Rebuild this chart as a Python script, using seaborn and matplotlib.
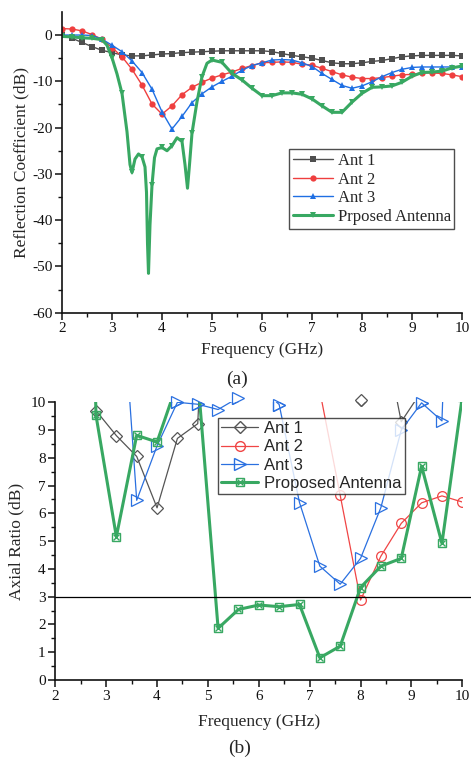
import numpy as np
import pandas as pd
import matplotlib
matplotlib.use("Agg")
import matplotlib.pyplot as plt
from matplotlib.lines import Line2D
from matplotlib.legend_handler import HandlerTuple
import seaborn as sns

# ---------------- data: (a) reflection coefficient ----------------
freq_a = [2.0, 2.2, 2.4, 2.6, 2.8, 3.0, 3.2, 3.4, 3.6, 3.8, 4.0, 4.2, 4.4, 4.6, 4.8,
          5.0, 5.2, 5.4, 5.6, 5.8, 6.0, 6.2, 6.4, 6.6, 6.8, 7.0, 7.2, 7.4, 7.6, 7.8,
          8.0, 8.2, 8.4, 8.6, 8.8, 9.0, 9.2, 9.4, 9.6, 9.8, 10.0]
ant1_s11 = [0.0, -0.7, -1.6, -2.5, -3.3, -3.8, -4.3, -4.5, -4.5, -4.3, -4.1, -4.0, -3.8, -3.7, -3.6,
            -3.5, -3.4, -3.4, -3.4, -3.4, -3.4, -3.6, -4.0, -4.4, -4.7, -5.0, -5.5, -6.0, -6.2, -6.2,
            -6.0, -5.7, -5.5, -5.1, -4.7, -4.5, -4.4, -4.4, -4.4, -4.4, -4.5]
ant2_s11 = [1.4, 1.3, 0.9, 0.1, -0.9, -2.7, -4.7, -7.4, -10.8, -14.9, -17.1, -15.3, -12.9, -11.3, -10.2,
            -9.3, -8.6, -8.0, -7.2, -6.6, -6.0, -5.9, -5.8, -5.9, -6.3, -6.5, -7.2, -7.9, -8.6, -9.1,
            -9.4, -9.4, -9.2, -8.9, -8.6, -8.5, -8.2, -8.2, -8.3, -8.6, -9.0]
ant3_s11 = [0.0, 0.0, 0.0, -0.1, -0.9, -2.2, -3.6, -5.6, -8.1, -11.7, -16.6, -20.3, -17.6, -14.6, -12.7,
            -11.2, -10.0, -8.9, -7.6, -6.6, -6.0, -5.4, -5.3, -5.4, -6.0, -6.8, -8.3, -9.6, -10.9, -11.5,
            -11.0, -10.1, -9.0, -8.1, -7.4, -7.0, -6.9, -6.9, -6.9, -6.9, -7.0]
prop_freq = [2.0, 2.2, 2.4, 2.6, 2.8, 2.9, 3.0, 3.1, 3.2, 3.3, 3.36, 3.4, 3.46, 3.53, 3.6,
             3.66, 3.69, 3.71, 3.73, 3.76, 3.8, 3.85, 3.9, 4.0, 4.1, 4.2, 4.3, 4.4, 4.46,
             4.51, 4.55, 4.6, 4.7, 4.8, 4.9, 5.0, 5.2, 5.4, 5.6, 5.8, 6.0, 6.2, 6.4, 6.6,
             6.8, 7.0, 7.2, 7.4, 7.6, 7.8, 8.0, 8.2, 8.4, 8.6, 8.8, 9.0, 9.2, 9.4, 9.6, 9.8, 10.0]
prop_s11 = [-0.3, -0.4, -0.6, -0.7, -1.0, -2.2, -4.9, -8.4, -12.6, -20.9, -28.0, -29.7, -26.8, -25.7, -26.3,
            -28.5, -34.0, -45.0, -51.5, -41.0, -32.4, -26.5, -24.6, -24.3, -25.0, -23.9, -22.2, -23.0, -28.0,
            -33.1, -28.0, -21.2, -14.4, -9.0, -6.1, -5.4, -5.9, -8.3, -9.7, -11.5, -13.1, -13.1, -12.5, -12.5,
            -12.8, -13.8, -15.3, -16.7, -16.7, -14.5, -12.6, -11.3, -11.2, -11.0, -10.2, -8.9, -8.1, -8.0, -7.8, -7.1, -6.7]

# ---------------- data: (b) axial ratio ----------------
freq_b = [2.4, 2.8, 3.2, 3.6, 4.0, 4.4, 4.8, 5.2, 5.6, 6.0, 6.4, 6.8, 7.2, 7.6, 8.0, 8.4, 8.8, 9.2, 9.6, 10.0]
ant1_ar = [np.nan, 9.7, 8.8, 8.05, 6.2, 8.7, 9.23, 25, 25, 25, 25, 25, 25, 25, 10.07, 13, 9.3, 10.4, 12, 14]
ant2_ar = [np.nan, np.nan, np.nan, np.nan, np.nan, np.nan, np.nan, np.nan, np.nan, np.nan, np.nan, np.nan,
           10.4, 6.65, 2.88, 4.46, 5.64, 6.38, 6.63, 6.41]
ant3_ar = [np.nan, np.nan, 17, 6.47, 8.43, 10.0, 9.93, 9.74, 10.17, 10.6, 9.92, 6.39, 4.1, 3.45, 4.38, 6.21, 9.0, 9.98, 9.33, 30]
prop_ar = [40, 9.53, 5.16, 8.81, 8.57, 10.7, 10.9, 1.86, 2.54, 2.70, 2.64, 2.72, 0.80, 1.22, 3.33, 4.1, 4.38, 7.7, 4.92, 10.2]
ar_limit = 3

labels_a = ["Ant 1", "Ant 2", "Ant 3", "Prposed Antenna"]
labels_b = ["Ant 1", "Ant 2", "Ant 3", "Proposed Antenna"]

sns.set_theme(style="ticks")
plt.rcParams["font.family"] = ["Liberation Serif", "DejaVu Serif"]
plt.rcParams["mathtext.fontset"] = "stix"

fig = plt.figure(figsize=(4.71, 7.60), dpi=100)
W, H = 471.0, 760.0
ax1 = fig.add_axes([62 / W, 1 - 312.7 / H, 400 / W, (312.7 - 11.9) / H])
ax2 = fig.add_axes([55.3 / W, 1 - 680 / H, 407 / W, (680 - 402.3) / H])

c_gray = "#4f4f4f"
c_red = "#ef3f3f"
c_blue = "#1f6fe3"
c_green = "#38a862"

# ---- top chart ----
sns.lineplot(x=freq_a, y=ant1_s11, ax=ax1, color=c_gray, lw=1.0, marker="s", markersize=4.2,
             markeredgewidth=0, label=labels_a[0], sort=False, estimator=None)
sns.lineplot(x=freq_a, y=ant2_s11, ax=ax1, color=c_red, lw=1.0, marker="o", markersize=4.5,
             markeredgewidth=0, label=labels_a[1], sort=False, estimator=None)
sns.lineplot(x=freq_a, y=ant3_s11, ax=ax1, color=c_blue, lw=1.0, marker="^", markersize=5,
             markeredgewidth=0, label=labels_a[2], sort=False, estimator=None)
mk_idx = [i for i, f in enumerate(prop_freq) if abs(f * 5 - round(f * 5)) < 1e-6]
sns.lineplot(x=prop_freq, y=prop_s11, ax=ax1, color=c_green, lw=2.2, marker="v", markersize=4.5,
             markeredgewidth=0, markevery=mk_idx, label=labels_a[3], sort=False, estimator=None)

ax1.set_xlim(2, 10)
ax1.set_ylim(-60, 5)
ax1.set_xticks(np.arange(2, 10.01, 1))
ax1.set_xticks(np.arange(2.5, 10, 1), minor=True)
ax1.set_yticks(np.arange(-60, 0.1, 10))
ax1.set_yticks(np.arange(-55, 5, 10), minor=True)
ax1.set_xticklabels([str(v) for v in range(2, 11)])
ax1.set_yticklabels([str(v) if v == 0 else "-" + str(abs(v)) for v in range(-60, 1, 10)])
ax1.set_xlabel("Frequency (GHz)", fontsize=12.5, labelpad=5)
ax1.set_ylabel("Reflection Coefficient (dB)", fontsize=12.5, labelpad=2)
leg1 = ax1.legend(loc="upper left", bbox_to_anchor=(227 / 400, 1 - (149.3 - 11.9) / 300.8),
                  fontsize=12, frameon=True, fancybox=False, edgecolor="#222222",
                  handlelength=2.4, handletextpad=0.3, borderpad=0.22, labelspacing=0.16,
                  borderaxespad=0)
leg1.get_frame().set_linewidth(1.0)

# ---- bottom chart ----
def ar_series(ax, y, color, marker, ms, lw, label):
    sns.lineplot(x=freq_b, y=y, ax=ax, color=color, lw=lw, marker=marker, markersize=ms,
                 markerfacecolor="none", markeredgecolor=color, markeredgewidth=0.9,
                 label=label, sort=False, estimator=None)
    # markers that sit on/just above the top edge are drawn un-clipped
    fx = [f for f, v in zip(freq_b, y) if np.isfinite(v) and 9.9 < v <= 10.2]
    fy = [v for v in y if np.isfinite(v) and 9.9 < v <= 10.2]
    if fx:
        ax.plot(fx, fy, ls="none", marker=marker, markersize=ms, markerfacecolor="none",
                markeredgecolor=color, markeredgewidth=0.9, clip_on=False, zorder=5)

c2_gray = "#555555"
c2_red = "#f04545"
c2_blue = "#2a70e0"
ar_series(ax2, ant1_ar, c2_gray, "D", 6, 0.9, labels_b[0])
ar_series(ax2, ant2_ar, c2_red, "o", 7, 0.9, labels_b[1])
ar_series(ax2, ant3_ar, c2_blue, ">", 8, 0.9, labels_b[2])
sns.lineplot(x=freq_b, y=prop_ar, ax=ax2, color=c_green, lw=2.2, marker="s", markersize=6,
             markerfacecolor="none", markeredgecolor=c_green, markeredgewidth=1.0,
             label=labels_b[3], sort=False, estimator=None)
ax2.plot(freq_b, prop_ar, ls="none", marker="x", markersize=4.5, color=c_green, markeredgewidth=1.0)
ax2.axhline(ar_limit, xmin=0, xmax=1.022, color="black", lw=0.9, clip_on=False)

ax2.set_xlim(2, 10)
ax2.set_ylim(0, 10)
ax2.set_xticks(np.arange(2, 10.01, 1))
ax2.set_xticks(np.arange(2.5, 10, 1), minor=True)
ax2.set_yticks(np.arange(0, 10.01, 1))
ax2.set_yticks(np.arange(0.5, 10, 1), minor=True)
ax2.set_xlabel("Frequency (GHz)", fontsize=12.5, labelpad=8)
ax2.set_ylabel("Axial Ratio (dB)", fontsize=12.5, labelpad=4)

h_prop = (Line2D([], [], color=c_green, lw=2.2, marker="s", markersize=6, markerfacecolor="none",
                 markeredgecolor=c_green),
          Line2D([], [], ls="none", marker="x", markersize=4.5, color=c_green))
handles = [Line2D([], [], color=c2_gray, lw=0.9, marker="D", markersize=6, markerfacecolor="none", markeredgecolor=c2_gray),
           Line2D([], [], color=c2_red, lw=0.9, marker="o", markersize=7, markerfacecolor="none", markeredgecolor=c2_red),
           Line2D([], [], color=c2_blue, lw=0.9, marker=">", markersize=8, markerfacecolor="none", markeredgecolor=c2_blue),
           h_prop]
leg2 = ax2.legend(handles, labels_b, loc="upper left",
                  bbox_to_anchor=((218 - 55.3) / 407, 1 - (417.7 - 402.3) / 277.7),
                  prop={"family": "Liberation Sans", "size": 12}, frameon=True, fancybox=False,
                  edgecolor="#222222", handlelength=2.2, handletextpad=0.35, borderpad=0.2,
                  labelspacing=0.2, borderaxespad=0, handler_map={tuple: HandlerTuple(ndivide=1, pad=0)})
leg2.get_frame().set_linewidth(1.0)
leg2.set_zorder(10)

for ax in (ax1, ax2):
    sns.despine(ax=ax)
    for s in ("left", "bottom"):
        ax.spines[s].set_linewidth(1.2)
        ax.spines[s].set_color("#111111")
    ax.tick_params(axis="both", which="major", direction="out", length=5, width=1.1,
                   labelsize=11, colors="#111111", pad=2)
    ax.tick_params(axis="both", which="minor", direction="out", length=3, width=1.0, colors="#111111")
    ax.set_facecolor("white")

fig.text(237 / W, 1 - 379 / H, "(a)", ha="center", va="center", fontsize=14)
fig.text(240 / W, 1 - 748 / H, "(b)", ha="center", va="center", fontsize=14)

fig.savefig("out.png", dpi=100, facecolor="white")
